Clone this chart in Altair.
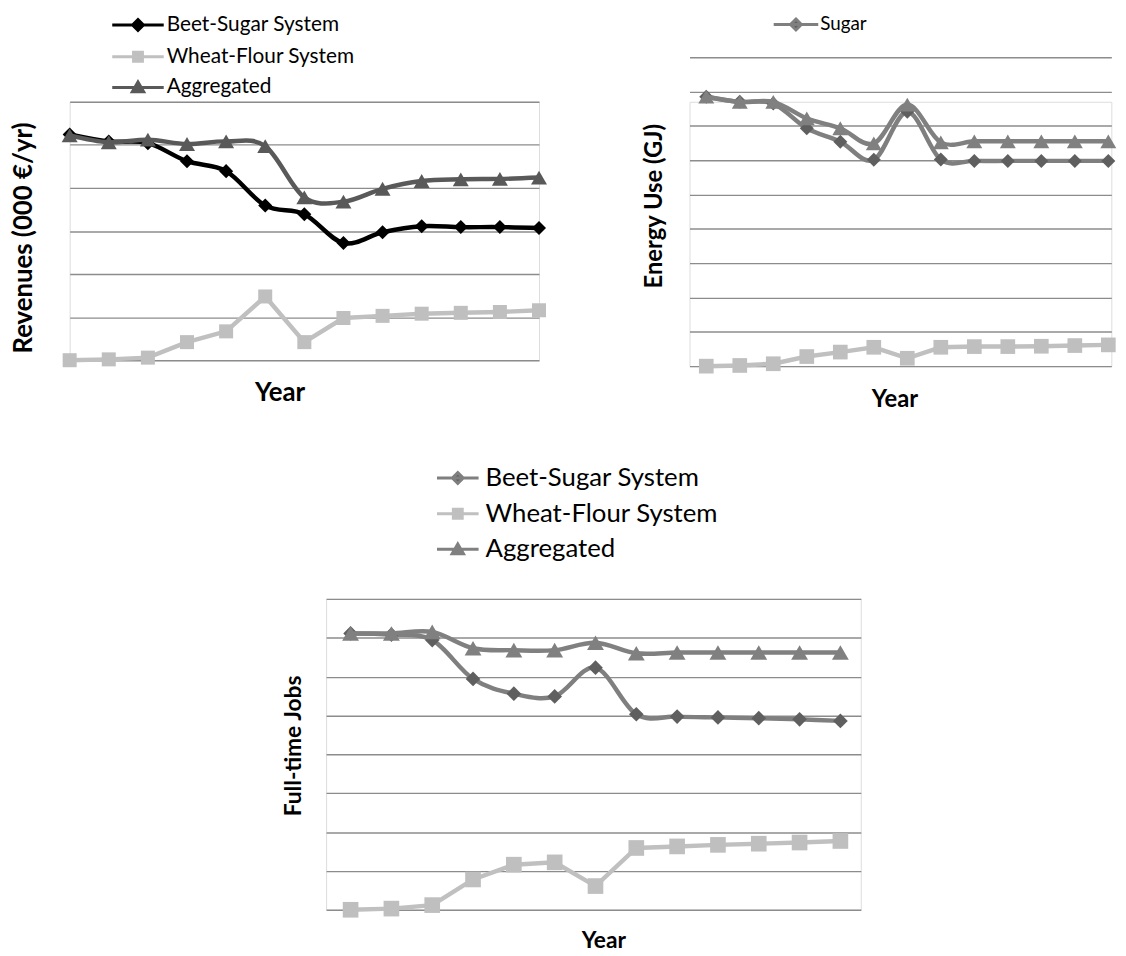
import altair as alt
import pandas as pd

FONT = "Lato"

# ---------------- data (in gridline units) -------------
year_idx = list(range(13))

rev_names = ["Beet-Sugar System", "Wheat-Flour System", "Aggregated"]
rev_beet = [5.24, 5.08, 5.04, 4.62, 4.39, 3.59, 3.39, 2.72, 2.97, 3.11, 3.09, 3.09, 3.07]
rev_wheat = [0.00, 0.02, 0.06, 0.42, 0.67, 1.48, 0.42, 0.98, 1.03, 1.08, 1.10, 1.12, 1.16]
rev_agg = [5.22, 5.06, 5.12, 5.02, 5.08, 4.97, 3.78, 3.68, 3.98, 4.16, 4.20, 4.21, 4.24]

en_names = ["Sugar", "Wheat", "Total"]
en_sugar = [7.85, 7.70, 7.65, 6.93, 6.54, 6.01, 7.41, 6.02, 5.98, 5.98, 5.98, 5.98, 5.98]
en_wheat = [0.00, 0.02, 0.07, 0.28, 0.41, 0.55, 0.23, 0.55, 0.57, 0.57, 0.58, 0.60, 0.62]
en_agg = [7.85, 7.70, 7.70, 7.22, 6.93, 6.49, 7.62, 6.52, 6.55, 6.55, 6.55, 6.55, 6.55]

job_names = ["Beet-Sugar System", "Wheat-Flour System", "Aggregated"]
job_beet = [7.11, 7.08, 6.94, 5.94, 5.56, 5.49, 6.23, 5.03, 4.97, 4.95, 4.93, 4.90, 4.86]
job_wheat = [0.00, 0.03, 0.12, 0.78, 1.16, 1.22, 0.61, 1.59, 1.63, 1.67, 1.70, 1.73, 1.77]
job_agg = [7.11, 7.11, 7.15, 6.73, 6.68, 6.68, 6.87, 6.60, 6.62, 6.62, 6.62, 6.62, 6.62]


def long_df(names, series):
    rows = []
    for name, vals in zip(names, series):
        for i, v in zip(year_idx, vals):
            rows.append({"year": i, "value": v, "series": name})
    return pd.DataFrame(rows)


GRID = "#8c8c8c"


def panel(df, order, styles, legend_names, legend_cfg, xdomain, ydomain, width, height,
          ytitle, ysize, ypad, ytitle_y, xsize, xpad, xtitle_x, yrange=None):
    x = alt.X("year:Q", scale=alt.Scale(domain=xdomain, nice=False, zero=False),
              axis=alt.Axis(title="Year", labels=False, ticks=False, domain=False, grid=False,
                            titleFont=FONT, titleFontSize=xsize, titleFontWeight="bold",
                            titleColor="#000000", titlePadding=xpad, titleX=xtitle_x))
    yscale = dict(domain=ydomain, nice=False, zero=True)
    if yrange is not None:
        yscale["range"] = yrange
    y = alt.Y("value:Q", scale=alt.Scale(**yscale),
              axis=alt.Axis(title=ytitle, values=list(range(ydomain[0], ydomain[1] + 1)),
                            labels=False, ticks=False, domain=False, grid=True,
                            gridColor=GRID, gridWidth=1.4,
                            titleFont=FONT, titleFontSize=ysize, titleFontWeight="bold",
                            titleColor="#000000", titlePadding=ypad, titleY=ytitle_y))
    layers = []
    for name in order:
        st = styles[name]
        sub = alt.Chart(df).transform_filter(alt.datum.series == name)
        layers.append(sub.mark_line(color=st["line"], strokeWidth=st["lw"],
                                    interpolate=st["interp"]).encode(x=x, y=y))
        layers.append(sub.mark_point(shape=st["shape"], filled=True, size=st["size"],
                                     color=st["marker"], opacity=1).encode(x=x, y=y))
    # legend-only layer (no rows reach it; the scales carry the legend entries)
    leg = alt.Legend(title=None, orient="none", direction="vertical",
                     legendX=legend_cfg["x"], legendY=legend_cfg["y"],
                     labelFont=FONT, labelFontSize=legend_cfg["fs"], labelColor="#000000",
                     labelLimit=0, labelOffset=legend_cfg["lo"], rowPadding=legend_cfg["rp"],
                     padding=legend_cfg["pad"], symbolSize=100, symbolStrokeWidth=3,
                     symbolOpacity=1)
    fills = [styles[n]["marker"] for n in legend_names]
    strokes = [styles[n]["line"] for n in legend_names]
    paths = [legend_cfg["paths"][n] for n in legend_names]
    legend_layer = alt.Chart(df).transform_filter("false").mark_point(
        filled=True, opacity=1, size=100, strokeWidth=3).encode(
        x=x, y=y,
        fill=alt.Fill("series:N", scale=alt.Scale(domain=legend_names, range=fills), legend=leg),
        stroke=alt.Stroke("series:N", scale=alt.Scale(domain=legend_names, range=strokes), legend=leg),
        shape=alt.Shape("series:N", scale=alt.Scale(domain=legend_names, range=paths), legend=leg),
    )
    layers.append(legend_layer)
    return alt.layer(*layers).properties(width=width, height=height)


def lpaths(half):
    return {
        "diamond": f"M-{half},0L{half},0M0,-1.1L1.1,0L0,1.1L-1.1,0Z",
        "square": f"M-{half},0L{half},0M-0.9,-0.9L0.9,-0.9L0.9,0.9L-0.9,0.9Z",
        "triangle": f"M-{half},0L{half},0M0,-1.1L1.15,0.9L-1.15,0.9Z",
    }


# ---------------- panel 1: revenues ----------------
p1_styles = {
    "Beet-Sugar System": dict(line="#000000", marker="#000000", shape="diamond", size=200, lw=4.5, interp="cardinal"),
    "Wheat-Flour System": dict(line="#c0c0c0", marker="#bfbfbf", shape="square", size=200, lw=4.5, interp="linear"),
    "Aggregated": dict(line="#595959", marker="#595959", shape="triangle-up", size=260, lw=4.5, interp="cardinal"),
}
lp = lpaths(5.2)
p1 = panel(long_df(rev_names, [rev_beet, rev_wheat, rev_agg]),
           ["Beet-Sugar System", "Wheat-Flour System", "Aggregated"], p1_styles, rev_names,
           dict(x=58.5, y=-88, fs=21, lo=18.5, rp=9, pad=0,
                paths={"Beet-Sugar System": lp["diamond"], "Wheat-Flour System": lp["square"],
                       "Aggregated": lp["triangle"]}),
           [0, 12], [0, 6], 474, 261, "Revenues (000 €/yr)", 26, 34, 137, 26, 20, 212)

# ---------------- panel 2: energy ----------------
# its gridded area starts above the shared top edge of the row
p2_styles = {
    "Sugar": dict(line="#7f7f7f", marker="#5f5f5f", shape="diamond", size=200, lw=4.5, interp="cardinal"),
    "Wheat": dict(line="#c0c0c0", marker="#bfbfbf", shape="square", size=220, lw=4.5, interp="linear"),
    "Total": dict(line="#808080", marker="#808080", shape="triangle-up", size=260, lw=4.5, interp="cardinal"),
}
lp2 = lpaths(4.5)
p2 = panel(long_df(en_names, [en_sugar, en_wheat, en_agg]),
           ["Wheat", "Sugar", "Total"], p2_styles, ["Sugar"],
           dict(x=96, y=-89.5, fs=19, lo=15, rp=0, pad=2, paths={"Sugar": lp2["diamond"]}),
           [-0.5, 12.09], [0, 9], 426, 267, "Energy Use (GJ)", 24, 23, 105, 24, 22, 207,
           yrange=[267, -45])

# ---------------- panel 3: jobs ----------------
p3_styles = {
    "Beet-Sugar System": dict(line="#7f7f7f", marker="#5f5f5f", shape="diamond", size=220, lw=4.5, interp="cardinal"),
    "Wheat-Flour System": dict(line="#c0c0c0", marker="#bfbfbf", shape="square", size=250, lw=4.5, interp="linear"),
    "Aggregated": dict(line="#808080", marker="#808080", shape="triangle-up", size=290, lw=4.5, interp="cardinal"),
}
lp3 = lpaths(4.2)
p3 = panel(long_df(job_names, [job_beet, job_wheat, job_agg]),
           ["Wheat-Flour System", "Beet-Sugar System", "Aggregated"], p3_styles, job_names,
           dict(x=120, y=-135, fs=26, lo=15, rp=10, pad=0,
                paths={"Beet-Sugar System": lp3["diamond"], "Wheat-Flour System": lp3["square"],
                       "Aggregated": lp3["triangle"]}),
           [-0.6, 12.5], [0, 8], 540, 314, "Full-time Jobs", 23, 20.5, 148, 23, 20, 280)

ind = dict(fill="independent", stroke="independent", shape="independent")
top = alt.hconcat(p1, p2, spacing=94).resolve_scale(**ind).resolve_legend(**ind)
chart = alt.vconcat(top, p3, spacing=52, center=True).resolve_scale(**ind).resolve_legend(**ind).properties(
    padding={"left": 1, "top": 0, "right": 0, "bottom": 0}
).configure_view(stroke=None).configure(font=FONT)

chart.save("out.html", embed_options={"renderer": "svg", "actions": False})
